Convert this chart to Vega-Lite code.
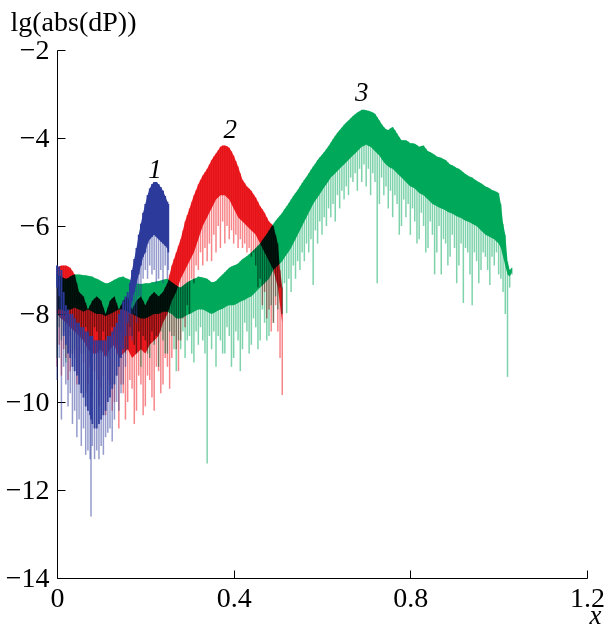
{
"$schema": "https://vega.github.io/schema/vega-lite/v6.json",
"width": 530, "height": 528,
"autosize": "none",
"padding": {"left": 57, "top": 50, "right": 17, "bottom": 51},
"background": "white",
"config": {"view": {"stroke": null}, "font": "Liberation Serif", "axis": {"labelFont": "Liberation Serif", "titleFont": "Liberation Serif"}},
"datasets": {
"blue": [
{"x":0.0,"hi":-6.9,"lo":-7.4,"sp":-9.5},{"x":0.005,"hi":-6.92,"lo":-7.6,"sp":-9.0},{"x":0.01,"hi":-7.0,"lo":-8.1,"sp":-10.4},{"x":0.015,"hi":-7.5,"lo":-8.5,"sp":-9.2},{"x":0.02,"hi":-7.8,"lo":-8.7,"sp":-9.6},{"x":0.025,"hi":-7.9,"lo":-8.9,"sp":-10.1},{"x":0.03,"hi":-8.0,"lo":-9.0,"sp":-9.8},{"x":0.035,"hi":-8.0,"lo":-9.2,"sp":-10.5},{"x":0.04,"hi":-8.1,"lo":-9.3,"sp":-10.2},{"x":0.045,"hi":-8.2,"lo":-9.4,"sp":-10.8},{"x":0.05,"hi":-8.2,"lo":-9.6,"sp":-10.4},{"x":0.055,"hi":-8.3,"lo":-9.8,"sp":-11.0},{"x":0.06,"hi":-8.3,"lo":-9.9,"sp":-10.6},{"x":0.065,"hi":-8.4,"lo":-10.1,"sp":-11.2},{"x":0.07,"hi":-8.4,"lo":-10.2,"sp":-11.1},{"x":0.075,"hi":-8.5,"lo":-10.3,"sp":-11.3},{"x":0.077,"hi":-8.5,"lo":-10.4,"sp":-12.6},{"x":0.08,"hi":-8.5,"lo":-10.5,"sp":-11.0},{"x":0.085,"hi":-8.6,"lo":-10.6,"sp":-11.3},{"x":0.09,"hi":-8.6,"lo":-10.6,"sp":-11.1},{"x":0.095,"hi":-8.6,"lo":-10.5,"sp":-11.3},{"x":0.1,"hi":-8.6,"lo":-10.4,"sp":-11.0},{"x":0.105,"hi":-8.6,"lo":-10.3,"sp":-11.2},{"x":0.11,"hi":-8.6,"lo":-10.2,"sp":-10.8},{"x":0.115,"hi":-8.5,"lo":-10.0,"sp":-10.7},{"x":0.12,"hi":-8.5,"lo":-9.9,"sp":-10.6},{"x":0.125,"hi":-8.4,"lo":-9.7,"sp":-10.9},{"x":0.13,"hi":-8.3,"lo":-9.6,"sp":-10.4},{"x":0.135,"hi":-8.2,"lo":-9.4,"sp":-10.0},{"x":0.14,"hi":-8.0,"lo":-9.2,"sp":-10.2},{"x":0.145,"hi":-7.9,"lo":-9.0,"sp":-9.8},{"x":0.15,"hi":-7.7,"lo":-8.8,"sp":-9.6},{"x":0.155,"hi":-7.6,"lo":-8.5,"sp":-9.2},{"x":0.16,"hi":-7.5,"lo":-8.2,"sp":-8.8},{"x":0.165,"hi":-7.3,"lo":-8.0,"sp":-8.5},{"x":0.17,"hi":-7.0,"lo":-7.7,"sp":-8.6},{"x":0.175,"hi":-6.75,"lo":-7.5,"sp":-8.0},{"x":0.18,"hi":-6.5,"lo":-7.3,"sp":-8.2},{"x":0.185,"hi":-6.2,"lo":-7.1,"sp":-7.6},{"x":0.19,"hi":-5.95,"lo":-6.9,"sp":-7.6},{"x":0.195,"hi":-5.7,"lo":-6.7,"sp":-7.2},{"x":0.2,"hi":-5.5,"lo":-6.6,"sp":-7.0},{"x":0.205,"hi":-5.3,"lo":-6.4,"sp":-7.2},{"x":0.21,"hi":-5.15,"lo":-6.3,"sp":-6.9},{"x":0.215,"hi":-5.05,"lo":-6.25,"sp":-7.1},{"x":0.22,"hi":-5.0,"lo":-6.2,"sp":-7.0},{"x":0.225,"hi":-5.0,"lo":-6.25,"sp":-7.3},{"x":0.23,"hi":-5.05,"lo":-6.3,"sp":-7.2},{"x":0.235,"hi":-5.12,"lo":-6.35,"sp":-7.0},{"x":0.24,"hi":-5.2,"lo":-6.4,"sp":-7.3},{"x":0.245,"hi":-5.32,"lo":-6.45,"sp":-6.9},{"x":0.25,"hi":-5.45,"lo":-6.5,"sp":-7.2},{"x":0.252,"hi":-5.5,"lo":-6.6,"sp":-7.0}
],
"red": [
{"x":0.0,"hi":-6.95,"lo":-8.0,"sp":-9.2},{"x":0.005,"hi":-6.92,"lo":-8.05,"sp":-8.7},{"x":0.01,"hi":-6.9,"lo":-8.1,"sp":-9.4},{"x":0.015,"hi":-6.9,"lo":-8.15,"sp":-8.8},{"x":0.02,"hi":-6.9,"lo":-8.2,"sp":-9.0},{"x":0.025,"hi":-6.92,"lo":-8.25,"sp":-9.5},{"x":0.03,"hi":-6.95,"lo":-8.3,"sp":-9.3},{"x":0.035,"hi":-7.02,"lo":-8.35,"sp":-8.9},{"x":0.04,"hi":-7.1,"lo":-8.4,"sp":-9.0},{"x":0.045,"hi":-7.3,"lo":-8.45,"sp":-9.6},{"x":0.05,"hi":-7.5,"lo":-8.5,"sp":-9.4},{"x":0.055,"hi":-7.55,"lo":-8.55,"sp":-8.9},{"x":0.06,"hi":-7.6,"lo":-8.6,"sp":-9.1},{"x":0.065,"hi":-7.75,"lo":-8.7,"sp":-9.8},{"x":0.07,"hi":-7.9,"lo":-8.8,"sp":-9.6},{"x":0.075,"hi":-7.8,"lo":-8.85,"sp":-9.2},{"x":0.08,"hi":-7.7,"lo":-8.9,"sp":-9.9},{"x":0.085,"hi":-7.65,"lo":-8.9,"sp":-9.3},{"x":0.09,"hi":-7.6,"lo":-8.9,"sp":-9.5},{"x":0.095,"hi":-7.65,"lo":-8.85,"sp":-10.1},{"x":0.1,"hi":-7.7,"lo":-8.8,"sp":-9.7},{"x":0.105,"hi":-7.85,"lo":-8.9,"sp":-9.4},{"x":0.11,"hi":-8.0,"lo":-9.0,"sp":-10.3},{"x":0.115,"hi":-7.85,"lo":-8.9,"sp":-9.5},{"x":0.12,"hi":-7.7,"lo":-8.8,"sp":-9.6},{"x":0.125,"hi":-7.65,"lo":-8.75,"sp":-10.2},{"x":0.13,"hi":-7.6,"lo":-8.7,"sp":-10.0},{"x":0.135,"hi":-7.75,"lo":-8.85,"sp":-9.4},{"x":0.14,"hi":-7.9,"lo":-9.0,"sp":-10.6},{"x":0.145,"hi":-7.8,"lo":-8.95,"sp":-9.6},{"x":0.15,"hi":-7.7,"lo":-8.9,"sp":-9.8},{"x":0.155,"hi":-7.65,"lo":-8.85,"sp":-10.4},{"x":0.16,"hi":-7.6,"lo":-8.8,"sp":-10.0},{"x":0.165,"hi":-7.75,"lo":-8.9,"sp":-9.5},{"x":0.17,"hi":-7.9,"lo":-9.0,"sp":-9.7},{"x":0.175,"hi":-7.8,"lo":-8.95,"sp":-10.5},{"x":0.18,"hi":-7.7,"lo":-8.9,"sp":-10.2},{"x":0.185,"hi":-7.65,"lo":-8.85,"sp":-9.4},{"x":0.19,"hi":-7.6,"lo":-8.8,"sp":-9.6},{"x":0.195,"hi":-7.7,"lo":-8.85,"sp":-10.3},{"x":0.2,"hi":-7.8,"lo":-8.9,"sp":-10.1},{"x":0.205,"hi":-7.7,"lo":-8.8,"sp":-9.4},{"x":0.21,"hi":-7.6,"lo":-8.7,"sp":-9.5},{"x":0.215,"hi":-7.55,"lo":-8.65,"sp":-9.9},{"x":0.22,"hi":-7.5,"lo":-8.6,"sp":-10.2},{"x":0.225,"hi":-7.55,"lo":-8.55,"sp":-9.2},{"x":0.23,"hi":-7.6,"lo":-8.5,"sp":-9.3},{"x":0.235,"hi":-7.55,"lo":-8.35,"sp":-9.8},{"x":0.24,"hi":-7.5,"lo":-8.2,"sp":-9.6},{"x":0.245,"hi":-7.4,"lo":-8.1,"sp":-9.0},{"x":0.25,"hi":-7.3,"lo":-8.0,"sp":-9.2},{"x":0.255,"hi":-7.1,"lo":-7.85,"sp":-9.7},{"x":0.26,"hi":-6.9,"lo":-7.7,"sp":-9.0},{"x":0.265,"hi":-6.75,"lo":-7.6,"sp":-8.5},{"x":0.27,"hi":-6.6,"lo":-7.5,"sp":-8.8},{"x":0.275,"hi":-6.45,"lo":-7.35,"sp":-9.3},{"x":0.28,"hi":-6.3,"lo":-7.2,"sp":-8.6},{"x":0.285,"hi":-6.1,"lo":-7.1,"sp":-8.1},{"x":0.29,"hi":-5.9,"lo":-7.0,"sp":-8.3},{"x":0.295,"hi":-5.75,"lo":-6.9,"sp":-7.8},{"x":0.3,"hi":-5.6,"lo":-6.8,"sp":-8.0},{"x":0.305,"hi":-5.45,"lo":-6.7,"sp":-7.2},{"x":0.31,"hi":-5.3,"lo":-6.6,"sp":-7.3},{"x":0.315,"hi":-5.18,"lo":-6.45,"sp":-6.9},{"x":0.32,"hi":-5.05,"lo":-6.3,"sp":-7.0},{"x":0.325,"hi":-4.95,"lo":-6.15,"sp":-6.6},{"x":0.33,"hi":-4.85,"lo":-6.0,"sp":-6.9},{"x":0.335,"hi":-4.78,"lo":-5.9,"sp":-6.5},{"x":0.34,"hi":-4.7,"lo":-5.8,"sp":-6.8},{"x":0.345,"hi":-4.6,"lo":-5.7,"sp":-6.4},{"x":0.35,"hi":-4.5,"lo":-5.6,"sp":-6.8},{"x":0.355,"hi":-4.42,"lo":-5.5,"sp":-6.2},{"x":0.36,"hi":-4.35,"lo":-5.4,"sp":-6.6},{"x":0.365,"hi":-4.28,"lo":-5.35,"sp":-6.0},{"x":0.37,"hi":-4.2,"lo":-5.3,"sp":-6.5},{"x":0.375,"hi":-4.17,"lo":-5.3,"sp":-5.9},{"x":0.38,"hi":-4.17,"lo":-5.3,"sp":-6.4},{"x":0.385,"hi":-4.19,"lo":-5.35,"sp":-6.0},{"x":0.39,"hi":-4.22,"lo":-5.4,"sp":-6.3},{"x":0.395,"hi":-4.3,"lo":-5.5,"sp":-6.1},{"x":0.4,"hi":-4.4,"lo":-5.6,"sp":-6.4},{"x":0.405,"hi":-4.52,"lo":-5.7,"sp":-6.2},{"x":0.41,"hi":-4.65,"lo":-5.8,"sp":-6.5},{"x":0.415,"hi":-4.8,"lo":-5.85,"sp":-6.3},{"x":0.42,"hi":-4.95,"lo":-5.9,"sp":-6.5},{"x":0.425,"hi":-5.02,"lo":-5.95,"sp":-6.4},{"x":0.43,"hi":-5.1,"lo":-6.0,"sp":-6.6},{"x":0.435,"hi":-5.15,"lo":-6.05,"sp":-6.5},{"x":0.44,"hi":-5.2,"lo":-6.1,"sp":-6.7},{"x":0.445,"hi":-5.28,"lo":-6.15,"sp":-6.6},{"x":0.45,"hi":-5.35,"lo":-6.2,"sp":-6.9},{"x":0.455,"hi":-5.45,"lo":-6.3,"sp":-7.4},{"x":0.46,"hi":-5.55,"lo":-6.4,"sp":-7.2},{"x":0.465,"hi":-5.62,"lo":-6.5,"sp":-7.8},{"x":0.47,"hi":-5.7,"lo":-6.6,"sp":-7.5},{"x":0.475,"hi":-5.8,"lo":-6.7,"sp":-8.1},{"x":0.48,"hi":-5.9,"lo":-6.8,"sp":-7.9},{"x":0.485,"hi":-5.95,"lo":-6.9,"sp":-8.4},{"x":0.49,"hi":-6.0,"lo":-7.0,"sp":-8.2},{"x":0.495,"hi":-6.2,"lo":-7.2,"sp":-7.8},{"x":0.5,"hi":-6.4,"lo":-7.4,"sp":-8.4},{"x":0.505,"hi":-7.0,"lo":-7.8,"sp":-9.0},{"x":0.51,"hi":-7.4,"lo":-8.2,"sp":-9.84}
],
"green": [
{"x":0.0,"hi":-7.1,"lo":-7.9,"sp":-9.0},{"x":0.005,"hi":-7.12,"lo":-7.9,"sp":-8.3},{"x":0.01,"hi":-7.15,"lo":-7.9,"sp":-8.6},{"x":0.015,"hi":-7.18,"lo":-7.92,"sp":-8.4},{"x":0.02,"hi":-7.2,"lo":-7.95,"sp":-9.1},{"x":0.025,"hi":-7.18,"lo":-7.92,"sp":-8.2},{"x":0.03,"hi":-7.15,"lo":-7.9,"sp":-8.5},{"x":0.035,"hi":-7.12,"lo":-7.88,"sp":-8.9},{"x":0.04,"hi":-7.1,"lo":-7.85,"sp":-8.8},{"x":0.045,"hi":-7.1,"lo":-7.88,"sp":-8.3},{"x":0.05,"hi":-7.1,"lo":-7.9,"sp":-8.4},{"x":0.055,"hi":-7.11,"lo":-7.92,"sp":-8.6},{"x":0.06,"hi":-7.12,"lo":-7.95,"sp":-8.9},{"x":0.065,"hi":-7.12,"lo":-7.92,"sp":-8.3},{"x":0.07,"hi":-7.13,"lo":-7.9,"sp":-8.5},{"x":0.075,"hi":-7.14,"lo":-7.92,"sp":-9.1},{"x":0.08,"hi":-7.15,"lo":-7.95,"sp":-8.7},{"x":0.085,"hi":-7.18,"lo":-7.98,"sp":-8.3},{"x":0.09,"hi":-7.2,"lo":-8.0,"sp":-8.4},{"x":0.095,"hi":-7.22,"lo":-8.0,"sp":-8.8},{"x":0.1,"hi":-7.25,"lo":-8.0,"sp":-8.9},{"x":0.105,"hi":-7.28,"lo":-8.02,"sp":-8.4},{"x":0.11,"hi":-7.3,"lo":-8.05,"sp":-8.6},{"x":0.115,"hi":-7.3,"lo":-8.02,"sp":-9.0},{"x":0.12,"hi":-7.28,"lo":-8.0,"sp":-8.8},{"x":0.125,"hi":-7.25,"lo":-7.98,"sp":-8.3},{"x":0.13,"hi":-7.22,"lo":-7.95,"sp":-8.5},{"x":0.135,"hi":-7.2,"lo":-7.92,"sp":-8.7},{"x":0.14,"hi":-7.17,"lo":-7.9,"sp":-9.0},{"x":0.145,"hi":-7.16,"lo":-7.9,"sp":-8.4},{"x":0.15,"hi":-7.15,"lo":-7.9,"sp":-8.6},{"x":0.155,"hi":-7.18,"lo":-7.92,"sp":-8.9},{"x":0.16,"hi":-7.2,"lo":-7.95,"sp":-8.8},{"x":0.165,"hi":-7.22,"lo":-7.98,"sp":-8.3},{"x":0.17,"hi":-7.25,"lo":-8.0,"sp":-8.5},{"x":0.175,"hi":-7.28,"lo":-8.02,"sp":-8.7},{"x":0.18,"hi":-7.3,"lo":-8.05,"sp":-8.9},{"x":0.185,"hi":-7.31,"lo":-8.08,"sp":-8.4},{"x":0.19,"hi":-7.32,"lo":-8.1,"sp":-9.2},{"x":0.195,"hi":-7.31,"lo":-8.1,"sp":-8.5},{"x":0.2,"hi":-7.3,"lo":-8.1,"sp":-8.6},{"x":0.205,"hi":-7.3,"lo":-8.08,"sp":-8.9},{"x":0.21,"hi":-7.3,"lo":-8.05,"sp":-9.0},{"x":0.215,"hi":-7.28,"lo":-8.02,"sp":-8.4},{"x":0.22,"hi":-7.27,"lo":-8.0,"sp":-8.7},{"x":0.225,"hi":-7.26,"lo":-8.0,"sp":-8.5},{"x":0.23,"hi":-7.25,"lo":-8.0,"sp":-9.2},{"x":0.235,"hi":-7.24,"lo":-7.98,"sp":-8.4},{"x":0.24,"hi":-7.22,"lo":-7.95,"sp":-8.6},{"x":0.245,"hi":-7.21,"lo":-7.95,"sp":-8.9},{"x":0.25,"hi":-7.2,"lo":-7.95,"sp":-8.9},{"x":0.255,"hi":-7.24,"lo":-7.98,"sp":-8.4},{"x":0.26,"hi":-7.28,"lo":-8.0,"sp":-8.5},{"x":0.265,"hi":-7.31,"lo":-8.05,"sp":-8.8},{"x":0.27,"hi":-7.35,"lo":-8.1,"sp":-9.3},{"x":0.275,"hi":-7.38,"lo":-8.1,"sp":-8.6},{"x":0.28,"hi":-7.4,"lo":-8.1,"sp":-8.8},{"x":0.285,"hi":-7.36,"lo":-8.08,"sp":-8.4},{"x":0.29,"hi":-7.32,"lo":-8.05,"sp":-9.0},{"x":0.295,"hi":-7.28,"lo":-8.02,"sp":-8.6},{"x":0.3,"hi":-7.25,"lo":-8.0,"sp":-8.5},{"x":0.305,"hi":-7.22,"lo":-7.98,"sp":-8.9},{"x":0.31,"hi":-7.2,"lo":-7.95,"sp":-9.1},{"x":0.315,"hi":-7.18,"lo":-7.92,"sp":-8.4},{"x":0.32,"hi":-7.15,"lo":-7.9,"sp":-8.7},{"x":0.325,"hi":-7.16,"lo":-7.9,"sp":-8.3},{"x":0.33,"hi":-7.17,"lo":-7.9,"sp":-8.6},{"x":0.335,"hi":-7.18,"lo":-7.92,"sp":-8.9},{"x":0.34,"hi":-7.2,"lo":-7.95,"sp":-11.4},{"x":0.345,"hi":-7.24,"lo":-7.98,"sp":-8.5},{"x":0.35,"hi":-7.28,"lo":-8.0,"sp":-8.8},{"x":0.355,"hi":-7.27,"lo":-7.98,"sp":-8.4},{"x":0.36,"hi":-7.25,"lo":-7.95,"sp":-9.2},{"x":0.365,"hi":-7.2,"lo":-7.92,"sp":-8.5},{"x":0.37,"hi":-7.15,"lo":-7.9,"sp":-8.6},{"x":0.375,"hi":-7.1,"lo":-7.88,"sp":-8.9},{"x":0.38,"hi":-7.05,"lo":-7.85,"sp":-8.9},{"x":0.385,"hi":-7.0,"lo":-7.82,"sp":-8.3},{"x":0.39,"hi":-6.95,"lo":-7.8,"sp":-8.5},{"x":0.395,"hi":-6.92,"lo":-7.8,"sp":-9.2},{"x":0.4,"hi":-6.9,"lo":-7.8,"sp":-9.0},{"x":0.405,"hi":-6.88,"lo":-7.78,"sp":-8.4},{"x":0.41,"hi":-6.85,"lo":-7.75,"sp":-8.6},{"x":0.415,"hi":-6.8,"lo":-7.72,"sp":-9.3},{"x":0.42,"hi":-6.75,"lo":-7.7,"sp":-8.8},{"x":0.425,"hi":-6.72,"lo":-7.68,"sp":-8.2},{"x":0.43,"hi":-6.68,"lo":-7.65,"sp":-8.4},{"x":0.435,"hi":-6.64,"lo":-7.62,"sp":-8.9},{"x":0.44,"hi":-6.6,"lo":-7.6,"sp":-8.7},{"x":0.445,"hi":-6.55,"lo":-7.55,"sp":-8.1},{"x":0.45,"hi":-6.5,"lo":-7.5,"sp":-8.3},{"x":0.455,"hi":-6.45,"lo":-7.45,"sp":-8.8},{"x":0.46,"hi":-6.4,"lo":-7.4,"sp":-8.6},{"x":0.465,"hi":-6.32,"lo":-7.35,"sp":-7.9},{"x":0.47,"hi":-6.25,"lo":-7.3,"sp":-8.2},{"x":0.475,"hi":-6.18,"lo":-7.25,"sp":-8.6},{"x":0.48,"hi":-6.1,"lo":-7.2,"sp":-8.5},{"x":0.485,"hi":-6.02,"lo":-7.1,"sp":-7.8},{"x":0.49,"hi":-5.95,"lo":-7.0,"sp":-8.2},{"x":0.495,"hi":-5.88,"lo":-6.95,"sp":-7.6},{"x":0.5,"hi":-5.82,"lo":-6.9,"sp":-7.9},{"x":0.505,"hi":-5.76,"lo":-6.85,"sp":-7.4},{"x":0.51,"hi":-5.7,"lo":-6.8,"sp":-8.0},{"x":0.515,"hi":-5.62,"lo":-6.72,"sp":-7.3},{"x":0.52,"hi":-5.55,"lo":-6.65,"sp":-7.98},{"x":0.525,"hi":-5.48,"lo":-6.58,"sp":-7.2},{"x":0.53,"hi":-5.4,"lo":-6.5,"sp":-7.5},{"x":0.535,"hi":-5.32,"lo":-6.4,"sp":-6.9},{"x":0.54,"hi":-5.25,"lo":-6.3,"sp":-7.2},{"x":0.545,"hi":-5.18,"lo":-6.2,"sp":-6.8},{"x":0.55,"hi":-5.1,"lo":-6.1,"sp":-7.0},{"x":0.555,"hi":-5.02,"lo":-6.0,"sp":-6.6},{"x":0.56,"hi":-4.95,"lo":-5.9,"sp":-6.8},{"x":0.565,"hi":-4.88,"lo":-5.8,"sp":-6.4},{"x":0.57,"hi":-4.8,"lo":-5.7,"sp":-6.6},{"x":0.575,"hi":-4.72,"lo":-5.6,"sp":-6.3},{"x":0.58,"hi":-4.65,"lo":-5.5,"sp":-7.34},{"x":0.585,"hi":-4.58,"lo":-5.42,"sp":-6.1},{"x":0.59,"hi":-4.5,"lo":-5.35,"sp":-6.4},{"x":0.595,"hi":-4.44,"lo":-5.28,"sp":-5.9},{"x":0.6,"hi":-4.38,"lo":-5.2,"sp":-6.2},{"x":0.605,"hi":-4.32,"lo":-5.12,"sp":-5.8},{"x":0.61,"hi":-4.25,"lo":-5.05,"sp":-6.0},{"x":0.615,"hi":-4.18,"lo":-4.98,"sp":-5.6},{"x":0.62,"hi":-4.1,"lo":-4.9,"sp":-5.8},{"x":0.625,"hi":-4.02,"lo":-4.85,"sp":-5.5},{"x":0.63,"hi":-3.95,"lo":-4.8,"sp":-5.9},{"x":0.635,"hi":-3.88,"lo":-4.75,"sp":-5.3},{"x":0.64,"hi":-3.82,"lo":-4.7,"sp":-5.6},{"x":0.645,"hi":-3.76,"lo":-4.65,"sp":-5.2},{"x":0.65,"hi":-3.7,"lo":-4.6,"sp":-5.4},{"x":0.655,"hi":-3.65,"lo":-4.55,"sp":-5.1},{"x":0.66,"hi":-3.6,"lo":-4.5,"sp":-5.3},{"x":0.665,"hi":-3.55,"lo":-4.45,"sp":-4.9},{"x":0.67,"hi":-3.5,"lo":-4.4,"sp":-5.0},{"x":0.675,"hi":-3.46,"lo":-4.35,"sp":-4.8},{"x":0.68,"hi":-3.42,"lo":-4.3,"sp":-5.2},{"x":0.685,"hi":-3.39,"lo":-4.25,"sp":-4.7},{"x":0.69,"hi":-3.36,"lo":-4.2,"sp":-5.0},{"x":0.695,"hi":-3.36,"lo":-4.18,"sp":-4.6},{"x":0.7,"hi":-3.37,"lo":-4.15,"sp":-5.1},{"x":0.705,"hi":-3.38,"lo":-4.18,"sp":-4.7},{"x":0.71,"hi":-3.4,"lo":-4.2,"sp":-5.3},{"x":0.715,"hi":-3.42,"lo":-4.25,"sp":-4.8},{"x":0.72,"hi":-3.45,"lo":-4.3,"sp":-5.0},{"x":0.725,"hi":-3.52,"lo":-4.35,"sp":-7.3},{"x":0.73,"hi":-3.6,"lo":-4.4,"sp":-5.5},{"x":0.735,"hi":-3.68,"lo":-4.48,"sp":-4.9},{"x":0.74,"hi":-3.75,"lo":-4.55,"sp":-5.3},{"x":0.745,"hi":-3.8,"lo":-4.6,"sp":-5.1},{"x":0.75,"hi":-3.82,"lo":-4.65,"sp":-5.6},{"x":0.755,"hi":-3.78,"lo":-4.68,"sp":-5.2},{"x":0.76,"hi":-3.75,"lo":-4.7,"sp":-5.8},{"x":0.765,"hi":-3.82,"lo":-4.75,"sp":-5.3},{"x":0.77,"hi":-3.9,"lo":-4.8,"sp":-5.5},{"x":0.775,"hi":-3.98,"lo":-4.85,"sp":-6.2},{"x":0.78,"hi":-4.05,"lo":-4.9,"sp":-6.0},{"x":0.785,"hi":-4.05,"lo":-4.95,"sp":-5.4},{"x":0.79,"hi":-4.05,"lo":-5.0,"sp":-5.8},{"x":0.795,"hi":-4.08,"lo":-5.05,"sp":-5.5},{"x":0.8,"hi":-4.12,"lo":-5.1,"sp":-6.2},{"x":0.805,"hi":-4.12,"lo":-5.12,"sp":-5.6},{"x":0.81,"hi":-4.13,"lo":-5.15,"sp":-5.9},{"x":0.815,"hi":-4.16,"lo":-5.2,"sp":-6.4},{"x":0.82,"hi":-4.2,"lo":-5.25,"sp":-6.3},{"x":0.825,"hi":-4.18,"lo":-5.28,"sp":-5.7},{"x":0.83,"hi":-4.17,"lo":-5.3,"sp":-6.0},{"x":0.835,"hi":-4.24,"lo":-5.35,"sp":-6.6},{"x":0.84,"hi":-4.3,"lo":-5.4,"sp":-6.5},{"x":0.845,"hi":-4.32,"lo":-5.45,"sp":-5.9},{"x":0.85,"hi":-4.35,"lo":-5.5,"sp":-6.2},{"x":0.855,"hi":-4.38,"lo":-5.52,"sp":-7.1},{"x":0.86,"hi":-4.42,"lo":-5.55,"sp":-6.6},{"x":0.865,"hi":-4.44,"lo":-5.58,"sp":-6.0},{"x":0.87,"hi":-4.45,"lo":-5.6,"sp":-7.1},{"x":0.875,"hi":-4.48,"lo":-5.62,"sp":-6.3},{"x":0.88,"hi":-4.5,"lo":-5.65,"sp":-6.4},{"x":0.885,"hi":-4.55,"lo":-5.68,"sp":-6.9},{"x":0.89,"hi":-4.6,"lo":-5.7,"sp":-6.7},{"x":0.895,"hi":-4.62,"lo":-5.72,"sp":-6.2},{"x":0.9,"hi":-4.65,"lo":-5.75,"sp":-6.5},{"x":0.905,"hi":-4.68,"lo":-5.78,"sp":-7.3},{"x":0.91,"hi":-4.7,"lo":-5.8,"sp":-6.9},{"x":0.915,"hi":-4.74,"lo":-5.82,"sp":-6.4},{"x":0.92,"hi":-4.78,"lo":-5.85,"sp":-7.75},{"x":0.925,"hi":-4.82,"lo":-5.88,"sp":-6.5},{"x":0.93,"hi":-4.85,"lo":-5.9,"sp":-6.6},{"x":0.935,"hi":-4.88,"lo":-5.92,"sp":-7.1},{"x":0.94,"hi":-4.9,"lo":-5.95,"sp":-7.8},{"x":0.945,"hi":-4.94,"lo":-5.98,"sp":-6.6},{"x":0.95,"hi":-4.97,"lo":-6.0,"sp":-6.8},{"x":0.955,"hi":-5.0,"lo":-6.05,"sp":-7.3},{"x":0.96,"hi":-5.03,"lo":-6.1,"sp":-7.0},{"x":0.965,"hi":-5.06,"lo":-6.15,"sp":-6.6},{"x":0.97,"hi":-5.1,"lo":-6.2,"sp":-6.7},{"x":0.975,"hi":-5.12,"lo":-6.22,"sp":-7.0},{"x":0.98,"hi":-5.15,"lo":-6.25,"sp":-7.34},{"x":0.985,"hi":-5.18,"lo":-6.28,"sp":-6.7},{"x":0.99,"hi":-5.2,"lo":-6.3,"sp":-6.9},{"x":0.995,"hi":-5.22,"lo":-6.35,"sp":-6.6},{"x":1.0,"hi":-5.25,"lo":-6.4,"sp":-7.1},{"x":1.005,"hi":-5.5,"lo":-6.5,"sp":-7.2},{"x":1.01,"hi":-5.95,"lo":-6.7,"sp":-7.5},{"x":1.015,"hi":-6.2,"lo":-6.9,"sp":-8.0},{"x":1.02,"hi":-6.8,"lo":-7.1,"sp":-9.43},{"x":1.025,"hi":-7.0,"lo":-7.15,"sp":-7.4},{"x":1.03,"hi":-6.95,"lo":-7.05,"sp":-7.1}
],
"labels": [
{"x":0.222,"y":-4.72,"t":"1"},{"x":0.392,"y":-3.82,"t":"2"},{"x":0.69,"y":-2.98,"t":"3"}
]
},
"encoding": {
"x": {"field": "x", "type": "quantitative", "scale": {"domain": [0, 1.2], "nice": false},
 "axis": {"values": [0, 0.4, 0.8, 1.2], "format": "~g", "grid": false, "domainColor": "black", "tickColor": "black", "tickSize": -8, "labelPadding": 14, "labelFontSize": 28, "labelColor": "black", "labelFont": "Liberation Serif", "labelFlush": false, "title": "x", "titleFont": "Liberation Serif", "titleFontStyle": "italic", "titleFontWeight": "normal", "titleFontSize": 27, "titleColor": "black", "titleX": 538, "titleY": 45, "titleAlign": "center", "titleBaseline": "alphabetic"}},
"y": {"field": "hi", "type": "quantitative", "scale": {"domain": [-14, -2], "nice": false},
 "axis": {"values": [-14, -12, -10, -8, -6, -4, -2], "grid": false, "domainColor": "black", "tickColor": "black", "tickSize": -8, "labelPadding": 16, "labelFontSize": 28, "labelColor": "black", "labelFont": "Liberation Serif", "labelFlush": false, "title": "lg(abs(dP))", "titleFont": "Liberation Serif", "titleFontWeight": "normal", "titleFontSize": 28, "titleColor": "black", "titleAngle": 0, "titleX": -47, "titleY": -20, "titleAlign": "left", "titleBaseline": "alphabetic"}}
},
"layer": [
{"data": {"name": "green"}, "mark": {"type": "rule", "color": "#00a85a", "opacity": 0.5, "strokeWidth": 1.5}, "encoding": {"y2": {"field": "sp"}}},
{"data": {"name": "green"}, "mark": {"type": "area", "color": "#00a85a", "opacity": 1}, "encoding": {"y2": {"field": "lo"}}},
{"data": {"name": "red"}, "mark": {"type": "rule", "color": "#ee2229", "opacity": 0.55, "strokeWidth": 1.5, "blend": "multiply"}, "encoding": {"y2": {"field": "sp"}}},
{"data": {"name": "red"}, "mark": {"type": "area", "color": "#ee2229", "opacity": 1, "blend": "multiply"}, "encoding": {"y2": {"field": "lo"}}},
{"data": {"name": "blue"}, "mark": {"type": "rule", "color": "#2b3a9b", "opacity": 0.5, "strokeWidth": 1.5}, "encoding": {"y2": {"field": "sp"}}},
{"data": {"name": "blue"}, "mark": {"type": "rule", "color": "#2b3a9b", "opacity": 0.95, "strokeWidth": 1.8}, "encoding": {"y2": {"field": "lo"}}},
{"data": {"name": "blue"}, "transform": [{"filter": "datum.x >= 0.165"}], "mark": {"type": "area", "color": "#2b3a9b", "opacity": 1}, "encoding": {"y2": {"field": "lo"}}},
{"data": {"name": "labels"}, "mark": {"type": "text", "font": "Liberation Serif", "fontStyle": "italic", "fontSize": 27, "color": "black", "baseline": "middle"}, "encoding": {"y": {"field": "y", "type": "quantitative"}, "text": {"field": "t"}}}
]
}
